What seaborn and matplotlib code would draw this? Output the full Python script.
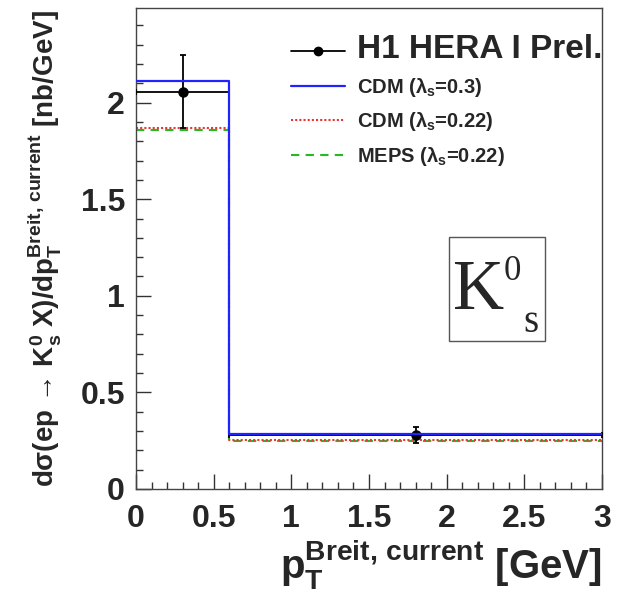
import numpy as np
import pandas as pd
import matplotlib
matplotlib.use("Agg")
import matplotlib.pyplot as plt
from matplotlib.lines import Line2D
from matplotlib.patches import Rectangle
import seaborn as sns

# ---- data ----
bin_edges = [0.0, 0.6, 3.0]
bin_centers = [0.3, 1.8]
data_y = [2.057, 0.280]
data_err = [0.19, 0.04]
cdm_03 = [2.114, 0.283]
cdm_022 = [1.870, 0.254]
meps_022 = [1.860, 0.250]
x_ticks = [0, 0.5, 1, 1.5, 2, 2.5, 3]
y_ticks = [0, 0.5, 1, 1.5, 2]

sns.set_theme(style="white")
plt.rcParams["font.family"] = ["Liberation Sans", "DejaVu Sans"]
plt.rcParams["font.weight"] = "bold"
plt.rcParams["mathtext.fontset"] = "custom"
plt.rcParams["mathtext.rm"] = "Liberation Sans:bold"
plt.rcParams["mathtext.it"] = "Liberation Sans:bold"
plt.rcParams["mathtext.bf"] = "Liberation Sans:bold"
plt.rcParams["mathtext.sf"] = "Liberation Sans:bold"
plt.rcParams["mathtext.default"] = "rm"

fig = plt.figure(figsize=(6.25, 6.06), dpi=100)
ax = fig.add_axes([0.2176, 0.1931, 0.7456, 0.7937])

df = pd.DataFrame({"x": bin_centers, "cdm03": cdm_03, "cdm022": cdm_022, "meps": meps_022})

# data points
ax.errorbar(bin_centers, data_y, yerr=data_err,
            xerr=[np.diff(bin_edges) / 2, np.diff(bin_edges) / 2],
            fmt="o", color="black", ms=6.5, lw=1.3, capsize=2, capthick=1.3, zorder=3)

sns.histplot(data=df, x="x", weights="meps", bins=bin_edges, element="step", fill=False,
             color="#22bb22", linestyle=(0, (4, 3)), linewidth=1.5, ax=ax, zorder=2)
sns.histplot(data=df, x="x", weights="cdm022", bins=bin_edges, element="step", fill=False,
             color="#ee3333", linestyle=(0, (1, 1)), linewidth=1.5, ax=ax, zorder=2)
sns.histplot(data=df, x="x", weights="cdm03", bins=bin_edges, element="step", fill=False,
             color="#2222ff", linestyle="-", linewidth=1.6, ax=ax, zorder=4)

ax.set_xlim(0, 3)
ax.set_ylim(0, 2.49)
ax.set_xticks(x_ticks)
ax.set_xticklabels([f"{t:g}" for t in x_ticks])
ax.set_yticks(y_ticks)
ax.set_yticklabels([f"{t:g}" for t in y_ticks])
ax.set_xticks(np.arange(0, 3.01, 0.1), minor=True)
ax.set_yticks(np.arange(0, 2.49, 0.1), minor=True)
ax.tick_params(which="both", direction="in", bottom=True, left=True, top=False, right=False,
               color="#333333", width=1)
ax.tick_params(which="major", length=11, labelsize=23)
ax.tick_params(which="minor", length=5)
ax.tick_params(axis="x", which="major", pad=11)
ax.tick_params(axis="y", which="major", pad=8)
for lab in ax.get_xticklabels() + ax.get_yticklabels():
    lab.set_fontweight("bold")
for sp in ax.spines.values():
    sp.set_color("#444444")
    sp.set_linewidth(1.0)
    sp.set_visible(True)

ax.set_xlabel(r"p$_{T}^{Breit{,}\ current}$ [GeV]", fontsize=29, fontweight="bold",
              loc="right", labelpad=2)
ax.set_ylabel(r"dσ(ep → K$^{0}_{s}$ X)/dp$_{T}^{Breit{,}\ current}$ [nb/GeV]",
              fontsize=20, fontweight="bold", labelpad=12)

# legend
handles = [
    Line2D([0], [0], color="black", marker="o", ms=6, lw=1.3),
    Line2D([0], [0], color="#2222ff", lw=1.6),
    Line2D([0], [0], color="#ee3333", lw=1.5, linestyle=(0, (1, 1))),
    Line2D([0], [0], color="#22bb22", lw=1.5, linestyle=(0, (4, 3))),
]
labels = ["H1 HERA I Prel.", r"CDM ($\lambda_{s}$=0.3)", r"CDM ($\lambda_{s}$=0.22)",
          r"MEPS ($\lambda_{s}$=0.22)"]
leg = ax.legend(handles, labels, loc="upper left", bbox_to_anchor=(0.315, 0.962),
                frameon=False, fontsize=14.5, handlelength=2.7, handletextpad=0.6,
                labelspacing=0.55, borderaxespad=0)
texts = leg.get_texts()
texts[0].set_fontsize(24)
for t in texts:
    t.set_fontweight("bold")

# K0s box
ax.add_patch(Rectangle((0.672, 0.308), 0.206, 0.216, transform=ax.transAxes,
                       fill=False, edgecolor="#555555", lw=1.0, zorder=5))
serif = ["Liberation Serif", "DejaVu Serif"]
ax.text(0.680, 0.374, "K", transform=ax.transAxes, fontsize=51, family=serif,
        fontweight="normal", ha="left", va="baseline")
ax.text(0.788, 0.434, "0", transform=ax.transAxes, fontsize=25, family=serif,
        fontweight="normal", ha="left", va="baseline")
ax.text(0.832, 0.326, "s", transform=ax.transAxes, fontsize=28, family=serif,
        fontweight="normal", ha="left", va="baseline")

fig.savefig("out.png", dpi=100)
